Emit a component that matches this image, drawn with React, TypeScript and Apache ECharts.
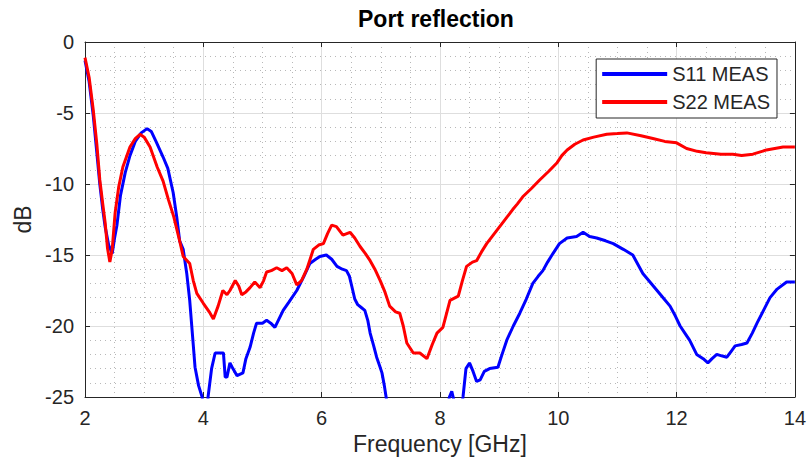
import React, { useEffect, useRef } from "react";
import * as echarts from "echarts";

const title = "Port reflection";
const xName = "Frequency [GHz]";
const yName = "dB";
const seriesNames = ["S11 MEAS", "S22 MEAS"];

const s11Freq = [
  2.0, 2.07, 2.14, 2.2, 2.25, 2.3, 2.34, 2.4, 2.46, 2.5, 2.54, 2.6, 2.68, 2.76, 2.85, 2.95, 3.05, 3.12, 3.2, 3.32,
  3.4, 3.49, 3.55, 3.6, 3.66, 3.72, 3.77, 3.82, 3.86, 3.92, 3.98, 4.02, 4.06, 4.08, 4.14, 4.2, 4.34, 4.37, 4.4, 4.45,
  4.5, 4.57, 4.67, 4.72, 4.79, 4.85, 4.9, 5.0, 5.07, 5.14, 5.21, 5.28, 5.35, 5.45, 5.58, 5.7, 5.8, 5.9, 5.97, 6.08,
  6.17, 6.26, 6.35, 6.42, 6.47, 6.51, 6.56, 6.61, 6.67, 6.73, 6.78, 6.82, 6.88, 6.93, 6.98, 7.02, 7.06, 7.09, 7.14, 7.4,
  7.7, 8.0, 8.1, 8.16, 8.2, 8.24, 8.35, 8.39, 8.44, 8.5, 8.56, 8.62, 8.68, 8.75, 8.84, 8.98, 9.05, 9.13, 9.24, 9.35,
  9.46, 9.57, 9.66, 9.74, 9.82, 9.91, 10.02, 10.15, 10.31, 10.42, 10.53, 10.65, 10.8, 10.93, 11.1, 11.26, 11.43, 11.55, 11.67, 11.79,
  11.89, 11.98, 12.06, 12.14, 12.22, 12.34, 12.45, 12.53, 12.6, 12.68, 12.76, 12.85, 12.92, 12.99, 13.1, 13.19, 13.28, 13.36, 13.47, 13.58,
  13.7, 13.86, 14.0,
];
const s11Db = [
  -1.3, -2.8, -5.2, -7.8, -10.0, -11.8, -13.0, -14.3, -14.9, -13.8, -12.9, -10.8, -9.2, -8.0, -7.0, -6.4, -6.1, -6.3, -7.0, -8.1,
  -8.9, -10.6, -12.3, -14.0, -14.6, -16.3, -18.2, -20.8, -22.9, -24.2, -25.0, -26.5, -26.5, -25.0, -23.0, -21.9, -21.9, -23.6, -23.6, -22.6,
  -23.0, -23.5, -23.3, -22.3, -21.5, -20.5, -19.8, -19.8, -19.6, -19.8, -20.1, -19.5, -18.9, -18.3, -17.5, -16.5, -15.6, -15.3, -15.1, -15.0,
  -15.3, -15.8, -16.0, -16.1, -16.5, -17.2, -18.1, -18.5, -18.7, -18.9, -19.6, -20.5, -21.4, -22.2, -22.8, -23.3, -24.2, -25.0, -26.5, -27.5,
  -28.0, -27.5, -26.5, -25.0, -24.6, -25.3, -26.0, -25.0, -23.0, -22.6, -23.2, -23.9, -23.8, -23.2, -23.0, -22.9, -22.0, -21.0, -20.0, -19.1,
  -18.1, -17.0, -16.5, -16.1, -15.5, -14.9, -14.2, -13.8, -13.7, -13.4, -13.7, -13.8, -14.0, -14.2, -14.6, -15.0, -16.3, -16.9, -17.5, -18.1,
  -18.6, -19.3, -20.0, -20.5, -21.0, -22.0, -22.3, -22.6, -22.3, -22.0, -22.1, -22.2, -21.8, -21.4, -21.3, -21.2, -20.5, -19.8, -18.9, -18.0,
  -17.4, -16.9, -16.9,
];

const s22Freq = [
  2.0, 2.07, 2.14, 2.2, 2.25, 2.3, 2.34, 2.38, 2.42, 2.46, 2.51, 2.57, 2.64, 2.76, 2.85, 2.93, 3.0, 3.1, 3.22, 3.32,
  3.41, 3.5, 3.6, 3.66, 3.77, 3.83, 3.89, 4.0, 4.1, 4.17, 4.25, 4.33, 4.4, 4.45, 4.54, 4.6, 4.65, 4.72, 4.79, 4.87,
  4.96, 5.02, 5.07, 5.15, 5.24, 5.33, 5.41, 5.5, 5.58, 5.66, 5.75, 5.86, 5.95, 6.03, 6.1, 6.17, 6.25, 6.36, 6.48, 6.56,
  6.65, 6.74, 6.82, 6.9, 6.99, 7.07, 7.15, 7.25, 7.32, 7.38, 7.44, 7.55, 7.66, 7.78, 7.87, 7.95, 8.05, 8.1, 8.17, 8.31,
  8.38, 8.45, 8.55, 8.62, 8.7, 8.79, 8.9, 9.01, 9.12, 9.23, 9.31, 9.4, 9.55, 9.69, 9.84, 9.98, 10.06, 10.15, 10.28, 10.42,
  10.6, 10.82, 11.0, 11.16, 11.4, 11.6, 11.8, 12.0, 12.17, 12.35, 12.5, 12.75, 12.95, 13.1, 13.29, 13.52, 13.8, 14.0,
];
const s22Db = [
  -1.1, -2.5, -4.8, -7.2, -9.7, -11.4, -12.7, -14.5, -15.5, -14.6, -12.0, -10.2, -8.8, -7.4, -6.8, -6.5, -6.7, -7.4, -8.8, -9.8,
  -11.1, -12.3, -14.0, -15.1, -15.6, -16.8, -17.7, -18.4, -19.0, -19.5, -18.6, -17.5, -17.8, -17.5, -16.8, -17.2, -17.8, -17.6, -17.3, -16.9,
  -17.3, -16.8, -16.2, -16.1, -15.9, -16.1, -15.9, -16.3, -17.1, -16.8, -16.0, -14.6, -14.3, -14.2, -13.5, -12.9, -13.0, -13.6, -13.4, -13.8,
  -14.4, -14.9, -15.4, -16.0, -16.8, -17.6, -18.6, -19.0, -19.1, -20.0, -21.2, -21.9, -21.9, -22.3, -21.3, -20.5, -20.1, -19.3, -18.2, -17.9,
  -16.8, -15.8, -15.5, -15.4, -14.8, -14.2, -13.6, -13.0, -12.4, -11.8, -11.4, -10.9, -10.3, -9.7, -9.1, -8.5, -8.0, -7.6, -7.2, -6.9,
  -6.7, -6.5, -6.45, -6.4, -6.6, -6.8, -7.0, -7.1, -7.5, -7.7, -7.8, -7.9, -7.9, -8.0, -7.9, -7.6, -7.4, -7.4,
];

const xMin = 2, xMax = 14, xStep = 2;
const yMin = -25, yMax = 0, yStep = 5;

const zip = (xs: number[], ys: number[]) => xs.map((x, i) => [x, ys[i]]);

const AXIS_COLOR = "#262626";
const FONT = "'Liberation Sans', Arial, Helvetica, sans-serif";

export default function App() {
  const ref = useRef<HTMLDivElement>(null);
  useEffect(() => {
    if (!ref.current) return;
    const chart = echarts.init(ref.current, undefined, { renderer: "svg" });
    const majorSplit = { show: true, lineStyle: { color: "#dedede", width: 1 } };
    const minorSplit = { show: true, lineStyle: { color: "#b8b8b8", width: 1, type: [1, 4] as any } };
    const axisLine = { show: true, onZero: false, lineStyle: { color: AXIS_COLOR, width: 1 } };
    const tick = { show: true, inside: true, length: 5, lineStyle: { color: AXIS_COLOR } };
    chart.setOption({
      animation: false,
      backgroundColor: "#ffffff",
      textStyle: { fontFamily: FONT },
      title: {
        text: title,
        left: 358,
        top: 7,
        padding: 0,
        textStyle: { fontFamily: FONT, fontSize: 23, fontWeight: "bold", color: "#000000" },
      },
      grid: { left: 85, right: 14, top: 42, bottom: 71, containLabel: false },
      legend: {
        orient: "vertical",
        right: 32,
        top: 59,
        padding: [5, 7, 6, 6],
        itemGap: 8,
        itemWidth: 65,
        itemHeight: 4,
        itemTextGap: 5,
        icon: "rect",
        borderColor: AXIS_COLOR,
        borderWidth: 1,
        borderRadius: 0,
        backgroundColor: "#ffffff",
        textStyle: { fontFamily: FONT, fontSize: 20, color: AXIS_COLOR },
        data: seriesNames,
      },
      xAxis: [
        {
          type: "value",
          min: xMin,
          max: xMax,
          interval: xStep,
          name: xName,
          nameLocation: "middle",
          nameGap: 31,
          nameTextStyle: { fontFamily: FONT, fontSize: 23, color: AXIS_COLOR },
          axisLine,
          axisTick: tick,
          axisLabel: { fontFamily: FONT, fontSize: 20, color: AXIS_COLOR, margin: 11 },
          splitLine: majorSplit,
          minorTick: { show: false, splitNumber: 4 },
          minorSplitLine: minorSplit,
        },
        {
          type: "value",
          position: "top",
          min: xMin,
          max: xMax,
          interval: xStep,
          axisLine,
          axisTick: tick,
          axisLabel: { show: false },
          splitLine: { show: false },
        },
      ],
      yAxis: [
        {
          type: "value",
          min: yMin,
          max: yMax,
          interval: yStep,
          name: yName,
          nameLocation: "middle",
          nameGap: 51,
          nameTextStyle: { fontFamily: FONT, fontSize: 23, color: AXIS_COLOR },
          axisLine,
          axisTick: tick,
          axisLabel: { fontFamily: FONT, fontSize: 20, color: AXIS_COLOR, margin: 11 },
          splitLine: majorSplit,
          minorTick: { show: false, splitNumber: 5 },
          minorSplitLine: minorSplit,
        },
        {
          type: "value",
          position: "right",
          min: yMin,
          max: yMax,
          interval: yStep,
          axisLine,
          axisTick: tick,
          axisLabel: { show: false },
          splitLine: { show: false },
        },
      ],
      series: [
        {
          name: seriesNames[0],
          type: "line",
          data: zip(s11Freq, s11Db),
          showSymbol: false,
          symbol: "none",
          clip: true,
          color: "#0000ff",
          lineStyle: { color: "#0000ff", width: 3 },
        },
        {
          name: seriesNames[1],
          type: "line",
          data: zip(s22Freq, s22Db),
          showSymbol: false,
          symbol: "none",
          clip: true,
          color: "#ff0000",
          lineStyle: { color: "#ff0000", width: 3 },
        },
      ],
    });
    return () => chart.dispose();
  }, []);
  return (
    <div
      ref={ref}
      style={{ position: "fixed", left: 0, top: 0, width: 809, height: 468, background: "#ffffff" }}
    />
  );
}
